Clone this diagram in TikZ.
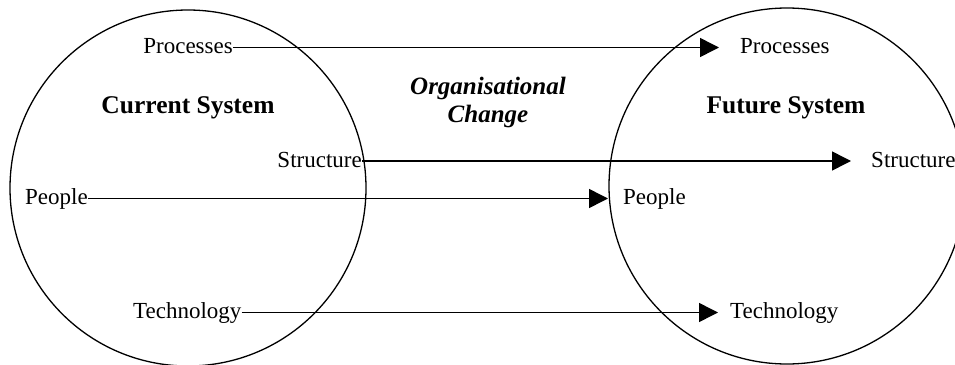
\documentclass[tikz,border=0pt]{standalone}
\usepackage{fontspec}
\setmainfont{Liberation Serif}
\usetikzlibrary{arrows.meta}
\begin{document}
\begin{tikzpicture}[x=1pt,y=-1pt,
  lbl/.style={inner sep=0pt,font=\fontsize{23}{27}\selectfont},
  ttl/.style={inner sep=0pt,font=\fontsize{25.5}{30}\selectfont\bfseries},
  sys/.style={draw=black,line width=1.3pt,circle,minimum size=356pt,inner sep=0pt},
  conn/.style={draw=black,line width=1.5pt,-{Triangle[length=19pt,width=19pt]}}]
\useasboundingbox (0,0) rectangle (955,364);
% circles
\node[sys] (cur) at (188,188) {};
\node[sys] (fut) at (787,186) {};
% titles
\node[ttl,anchor=base] (curT) at (188,113) {Current System};
\node[ttl,anchor=base] (futT) at (786,113) {Future System};
\node[inner sep=0pt,align=center,font=\fontsize{25}{28}\selectfont\bfseries\itshape] (chg) at (488,102) {Organisational\\Change};
% left labels
\node[lbl,anchor=base east] (pL) at (233,53) {Processes};
\node[lbl,anchor=base east] (sL) at (362,167) {Structure};
\node[lbl,anchor=base west] (peL) at (25,204) {People};
\node[lbl,anchor=base west] (tL) at (133,318) {Technology};
% right labels
\node[lbl,anchor=base west] (pR) at (740,53) {Processes};
\node[lbl,anchor=base west] (sR) at (871,167) {Structure};
\node[lbl,anchor=base west] (peR) at (623,204) {People};
\node[lbl,anchor=base west] (tR) at (730,318) {Technology};
% connectors
\draw[conn] ([yshift=5.5pt]pL.base east) -- ([yshift=5.5pt,xshift=-21pt]pR.base west);
\draw[conn] ([yshift=6pt]sL.base east) -- ([yshift=6pt,xshift=-20pt]sR.base west);
\draw[conn] ([yshift=5.5pt]peL.base east) -- ([yshift=5.5pt,xshift=-15pt]peR.base west);
\draw[conn] ([yshift=5.5pt]tL.base east) -- ([yshift=5.5pt,xshift=-12pt]tR.base west);
\end{tikzpicture}
\end{document}
